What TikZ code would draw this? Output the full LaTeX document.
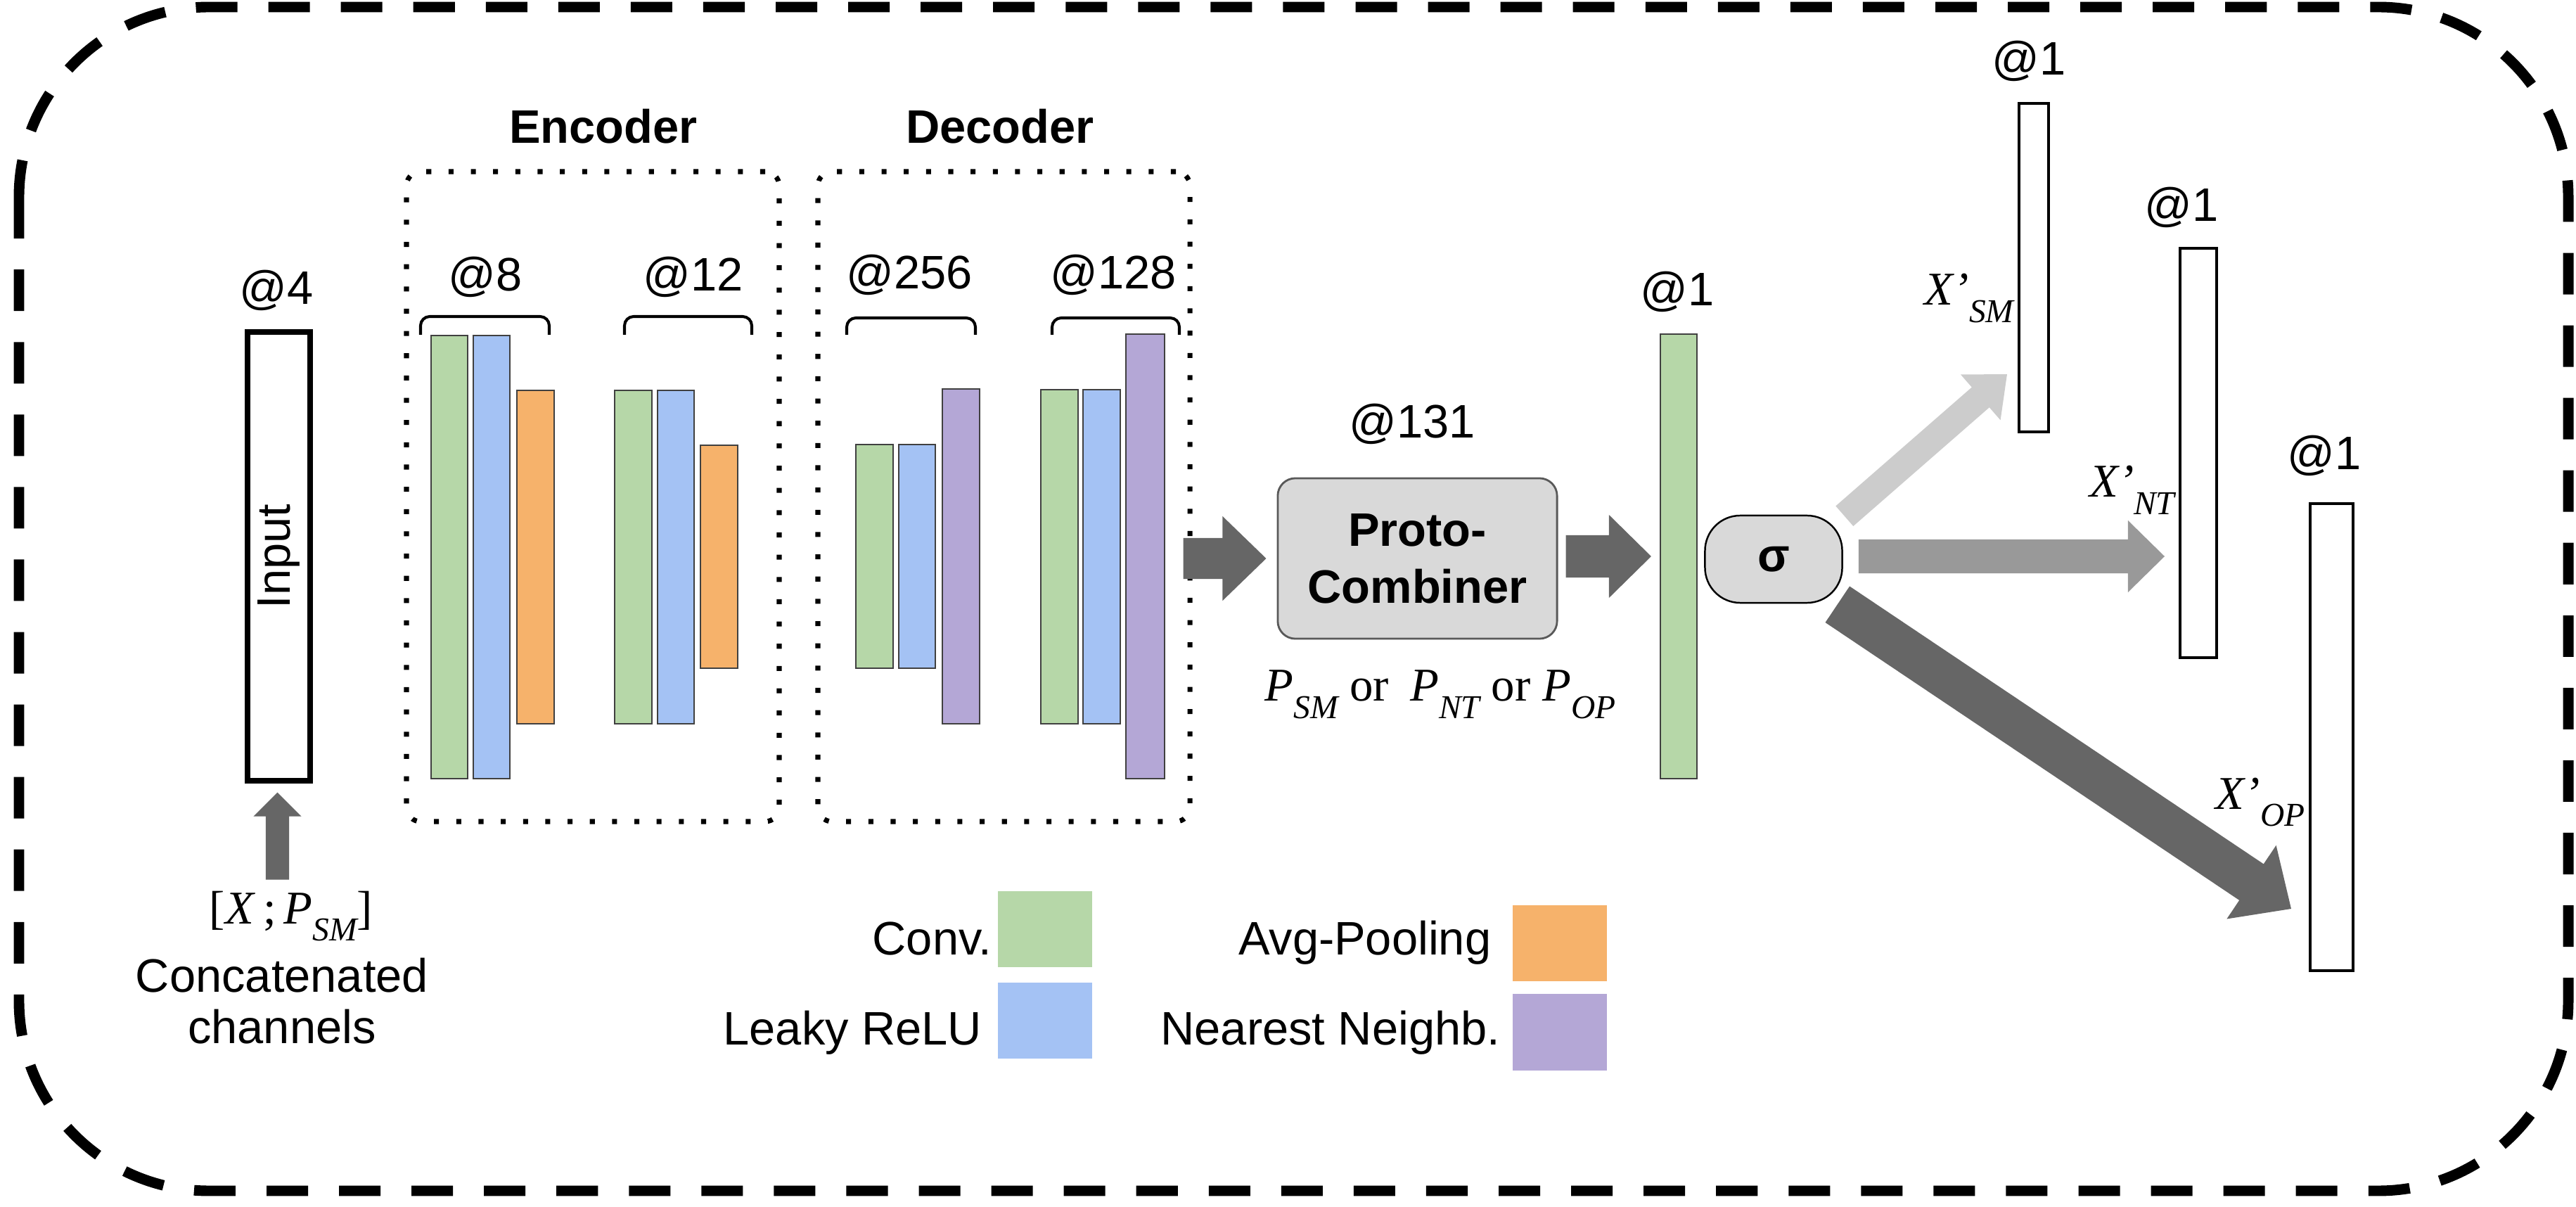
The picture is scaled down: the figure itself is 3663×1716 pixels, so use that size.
\documentclass[tikz,border=0pt]{standalone}
\usepackage{fontspec}
\setmainfont{Liberation Sans}
\newfontfamily\serifface{Liberation Serif}
\usetikzlibrary{calc,fit}

\definecolor{convc}{HTML}{B6D7A8}
\definecolor{reluc}{HTML}{A4C2F4}
\definecolor{poolc}{HTML}{F6B26B}
\definecolor{nnc}{HTML}{B4A7D6}
\definecolor{boxgray}{HTML}{D9D9D9}
\definecolor{arrdark}{HTML}{666666}
\definecolor{arrmid}{HTML}{999999}
\definecolor{arrlight}{HTML}{CCCCCC}

% italic symbol with a lowered italic subscript, in the serif face
\newcommand\msub[2]{\textit{#1}\raisebox{-7pt}{\fontsize{13.5}{14}\selectfont\itshape #2}}

% thick block arrow: start, tip, shaft half-width, head half-width, head length, colour
\newcommand\fatarrow[6]{%
  \coordinate (fa-h) at ($(#2)!#5!(#1)$);
  \fill[#6] ($(#1)!#3!90:(#2)$) -- ($(fa-h)!#3!90:(#2)$) -- ($(fa-h)!#4!90:(#2)$) -- (#2)
    -- ($(fa-h)!#4!-90:(#2)$) -- ($(fa-h)!#3!-90:(#2)$) -- ($(#1)!#3!-90:(#2)$) -- cycle;}

\tikzset{
  every node/.style={font=\fontsize{19}{23}\selectfont},
  boldtxt/.style={font=\fontsize{19}{23}\selectfont\bfseries},
  layer/.style={draw=black!75, line width=0.6pt, inner sep=0pt},
  conv/.style={layer, fill=convc},
  relu/.style={layer, fill=reluc},
  pool/.style={layer, fill=poolc},
  nn/.style={layer, fill=nnc},
  outbar/.style={draw, line width=1.15pt, fill=white, inner sep=0pt},
  groupbox/.style={draw, line width=2pt, dash pattern=on 2pt off 7pt, rounded corners=0.2cm, inner sep=0pt},
  brace/.style={line width=1.15pt, rounded corners=0.13cm},
  lbl/.style={inner sep=0pt, anchor=base},
  mathlbl/.style={inner sep=0pt, font=\fontsize{19}{23}\selectfont\serifface},
  swatch/.style={inner sep=0pt},
  legtxt/.style={inner sep=0pt, anchor=base east},
}

\begin{document}
\begin{tikzpicture}[x=0.01cm, y=-0.01cm]
\useasboundingbox (0,0) rectangle (3663,1716);

% outer frame
\draw[line width=4.25pt, dash pattern=on 0.59cm off 0.44cm, rounded corners=2.7cm]
  (27,10) rectangle (3652,1693);

% input tensor
\node[fit={(352,472) (441,1110)}, draw, line width=2pt, inner sep=0pt] (inp) {};
\node[rotate=90, inner sep=0pt] (inptxt) at (inp.center) {Input};
\node[lbl] (lab4) at (393,433) {@4};

% encoder
\node[boldtxt, lbl] (encT) at (858,204) {Encoder};
\node[groupbox, fit={(578,244) (1108,1168)}] (enc) {};
\node[conv, fit={(613,477) (665,1107)}] (e1c) {};
\node[relu, fit={(673,477) (725,1107)}] (e1r) {};
\node[pool, fit={(735,555) (788,1029)}] (e1p) {};
\node[conv, fit={(874,555) (927,1029)}] (e2c) {};
\node[relu, fit={(935,555) (987,1029)}] (e2r) {};
\node[pool, fit={(996,633) (1049,950)}] (e2p) {};
\draw[brace] (598,476) -- (598,450) -- (781,450) -- (781,476);
\draw[brace] (888,476) -- (888,450) -- (1069,450) -- (1069,476);
\node[lbl] (lab8) at (690,414) {@8};
\node[lbl] (lab12) at (986,414) {@12};

% decoder
\node[boldtxt, lbl] (decT) at (1422,204) {Decoder};
\node[groupbox, fit={(1163,244) (1692,1168)}] (dec) {};
\node[conv, fit={(1217,632) (1270,950)}] (d1c) {};
\node[relu, fit={(1278,632) (1330,950)}] (d1r) {};
\node[nn, fit={(1340,553) (1393,1029)}] (d1n) {};
\node[conv, fit={(1480,554) (1533,1029)}] (d2c) {};
\node[relu, fit={(1540,554) (1593,1029)}] (d2r) {};
\node[nn, fit={(1601,475) (1656,1107)}] (d2n) {};
\draw[brace] (1204,476) -- (1204,452) -- (1387,452) -- (1387,476);
\draw[brace] (1496,476) -- (1496,452) -- (1677,452) -- (1677,476);
\node[lbl] (lab256) at (1293,411) {@256};
\node[lbl] (lab128) at (1583,411) {@128};

% proto-combiner
\node[boldtxt, draw=black!65, fill=boxgray, rounded corners=0.25cm, line width=0.8pt,
      minimum width=3.97cm, minimum height=2.28cm, align=center, inner sep=0pt]
  (proto) at (2015.5,794) {Proto-\\Combiner};
\node[lbl] (lab131) at (2008,623) {@131};
\node[mathlbl, anchor=base west] (plabel) at (1798,997)
  {\msub{P}{SM} or\hspace{0.2em} \msub{P}{NT} or \msub{P}{OP}};

% merged output and sigmoid
\node[conv, fit={(2361,475) (2413,1107)}] (gout) {};
\node[lbl] (lab1g) at (2385,435) {@1};
\node[boldtxt, draw, line width=0.7pt, fill=boxgray, rounded corners=0.5cm,
      minimum width=1.95cm, minimum height=1.24cm, inner sep=0pt] (sig) at (2522,795) {σ};

% three outputs
\node[outbar, fit={(2871,147) (2913,614)}] (o1) {};
\node[outbar, fit={(3100,353) (3152,935)}] (o2) {};
\node[outbar, fit={(3285,716) (3346,1380)}] (o3) {};
\node[lbl] (lab1a) at (2885,107) {@1};
\node[lbl] (lab1b) at (3102,315) {@1};
\node[lbl] (lab1c) at (3305,668) {@1};
\node[mathlbl, anchor=base east] (xsm) at ($(o1.west |- 0,434)+(-5,0)$) {\msub{X’}{SM}};
\node[mathlbl, anchor=base east] (xnt) at ($(o2.west |- 0,707)+(-5,0)$) {\msub{X’}{NT}};
\node[mathlbl, anchor=base east] (xop) at ($(o3.west |- 0,1150)+(-5,0)$) {\msub{X’}{OP}};

% input label
\node[mathlbl, anchor=base] (catmath) at (414,1313) {[\textit{X}\,;\,\msub{P}{SM}]};
\node[align=center, inner sep=0pt, font=\fontsize{19}{20.8}\selectfont] (cattxt) at (401,1423) {Concatenated\\channels};

% connectors
\coordinate (inS) at ($(inp.south)+(-2,137)$);
\coordinate (inE) at ($(inp.south)+(-2,13)$);
\fatarrow{inS}{inE}{0.165cm}{0.34cm}{0.34cm}{arrdark}

\coordinate (a1s) at ($(dec.east |- proto.west)+(-13,0)$);
\coordinate (a1e) at ($(proto.west)+(-15,0)$);
\fatarrow{a1s}{a1e}{0.29cm}{0.60cm}{0.62cm}{arrdark}

\coordinate (a2s) at ($(proto.east)+(11,-3)$);
\coordinate (a2e) at ($(gout.west |- proto.east)+(-12,-3)$);
\fatarrow{a2s}{a2e}{0.30cm}{0.59cm}{0.60cm}{arrdark}

\coordinate (s1s) at ($(sig.north east)+(2,2)$);
\coordinate (s1e) at ($(o1.south west)+(-15,-84)$);
\fatarrow{s1s}{s1e}{0.19cm}{0.43cm}{0.50cm}{arrlight}

\coordinate (s2s) at ($(sig.east)+(22,-4)$);
\coordinate (s2e) at ($(o2.west |- sig.east)+(-20,-4)$);
\fatarrow{s2s}{s2e}{0.24cm}{0.51cm}{0.52cm}{arrmid}

\coordinate (s3s) at ($(sig.south east)+(-8,1)$);
\coordinate (s3e) at ($(o3.south west)+(-25,-90)$);
\fatarrow{s3s}{s3e}{0.31cm}{0.63cm}{0.68cm}{arrdark}

% legend
\node[swatch, fill=convc, fit={(1419,1267) (1553,1375)}] (lgconv) {};
\node[swatch, fill=reluc, fit={(1419,1397) (1553,1505)}] (lgrelu) {};
\node[swatch, fill=poolc, fit={(2151,1287) (2285,1395)}] (lgpool) {};
\node[swatch, fill=nnc, fit={(2151,1413) (2285,1522)}] (lgnn) {};
\node[legtxt] (ltconv) at (1411,1357) {Conv.};
\node[legtxt] (ltrelu) at (1397,1485) {Leaky ReLU};
\node[legtxt] (ltpool) at (2121,1357) {Avg-Pooling};
\node[legtxt] (ltnn) at (2134,1485) {Nearest Neighb.};
\end{tikzpicture}
\end{document}
